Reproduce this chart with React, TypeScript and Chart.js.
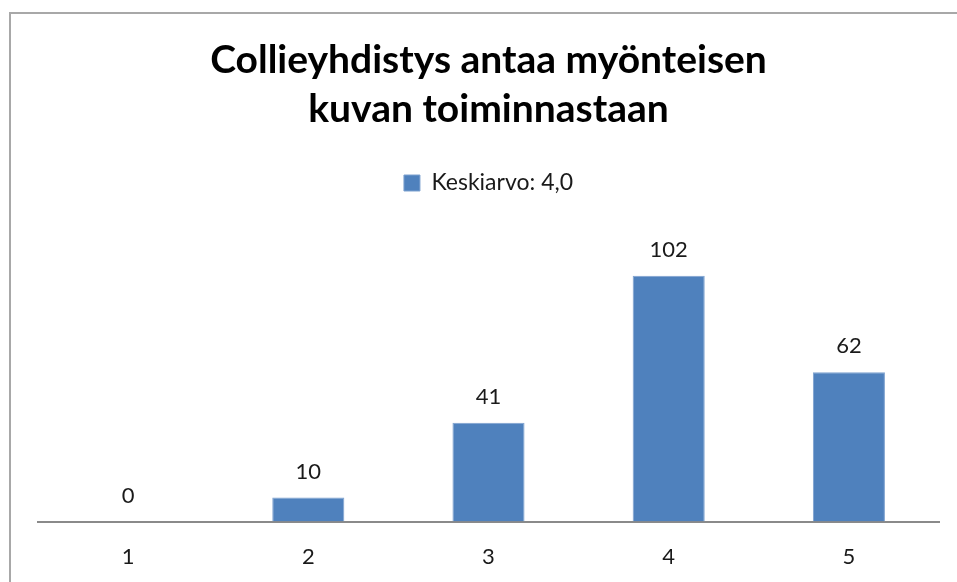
import React, { useEffect, useRef } from "react";
import { Chart, registerables } from "chart.js";

Chart.register(...registerables);

const categories = ["1", "2", "3", "4", "5"];
const counts = [0, 10, 41, 102, 62];
const seriesLabel = "Keskiarvo: 4,0";
const titleLines = ["Collieyhdistys antaa myönteisen", "kuvan toiminnastaan"];
const yMax = 120;

const FONT = "Lato, 'Open Sans', sans-serif";

const valueLabels = {
  id: "valueLabels",
  afterDatasetsDraw(chart: any) {
    const { ctx } = chart;
    const meta = chart.getDatasetMeta(0);
    const data = chart.data.datasets[0].data as number[];
    ctx.save();
    ctx.font = `22px ${FONT}`;
    ctx.fillStyle = "#1a1a1a";
    ctx.textAlign = "center";
    ctx.textBaseline = "middle";
    meta.data.forEach((bar: any, i: number) => {
      ctx.fillText(String(data[i]), bar.x, bar.y - 26);
    });
    ctx.restore();
  },
};

const legendGap = {
  id: "legendGap",
  beforeInit(chart: any) {
    const legend = chart.legend;
    if (!legend) return;
    const orig = legend.fit;
    legend.fit = function () {
      orig.call(this);
      this.height += 28;
    };
  },
};

export default function App() {
  const ref = useRef<HTMLCanvasElement | null>(null);

  useEffect(() => {
    if (!ref.current) return;
    const chart = new Chart(ref.current, {
      type: "bar",
      data: {
        labels: categories,
        datasets: [
          {
            label: seriesLabel,
            data: counts,
            backgroundColor: "#4F81BD",
            borderColor: "#7DA1CF",
            borderWidth: 1,
            barPercentage: 0.4,
            categoryPercentage: 1,
          },
        ],
      },
      options: {
        responsive: false,
        animation: false,
        layout: { padding: { left: 38, right: 18, top: 0, bottom: 14 } },
        plugins: {
          title: {
            display: true,
            text: titleLines,
            color: "#000000",
            font: { family: FONT, size: 39, weight: "bold", lineHeight: 49 / 39 },
            padding: { top: 35.5, bottom: 0 },
          },
          legend: {
            display: true,
            position: "top",
            labels: {
              color: "#1a1a1a",
              font: { family: FONT, size: 23 },
              boxWidth: 16,
              boxHeight: 16,
              padding: 38,
            },
          },
          tooltip: { enabled: false },
        },
        scales: {
          x: {
            grid: { display: false, drawTicks: false },
            border: { display: true, color: "#8a8a8a", width: 2 },
            ticks: {
              color: "#1a1a1a",
              font: { family: FONT, size: 22 },
              padding: 22,
            },
          },
          y: {
            display: false,
            min: 0,
            max: yMax,
          },
        },
      },
      plugins: [valueLabels, legendGap],
    });
    return () => chart.destroy();
  }, []);

  return (
    <div
      style={{
        position: "fixed",
        left: 0,
        top: 0,
        width: 957,
        height: 582,
        overflow: "hidden",
        background: "#ffffff",
      }}
    >
      <div
        style={{
          position: "absolute",
          left: 9,
          top: 12,
          width: 1100,
          height: 1100,
          border: "2px solid #a8a8a8",
          boxSizing: "border-box",
        }}
      />
      <canvas
        ref={ref}
        width={957}
        height={606}
        style={{ position: "absolute", left: 0, top: 0, width: 957, height: 606 }}
      />
    </div>
  );
}
